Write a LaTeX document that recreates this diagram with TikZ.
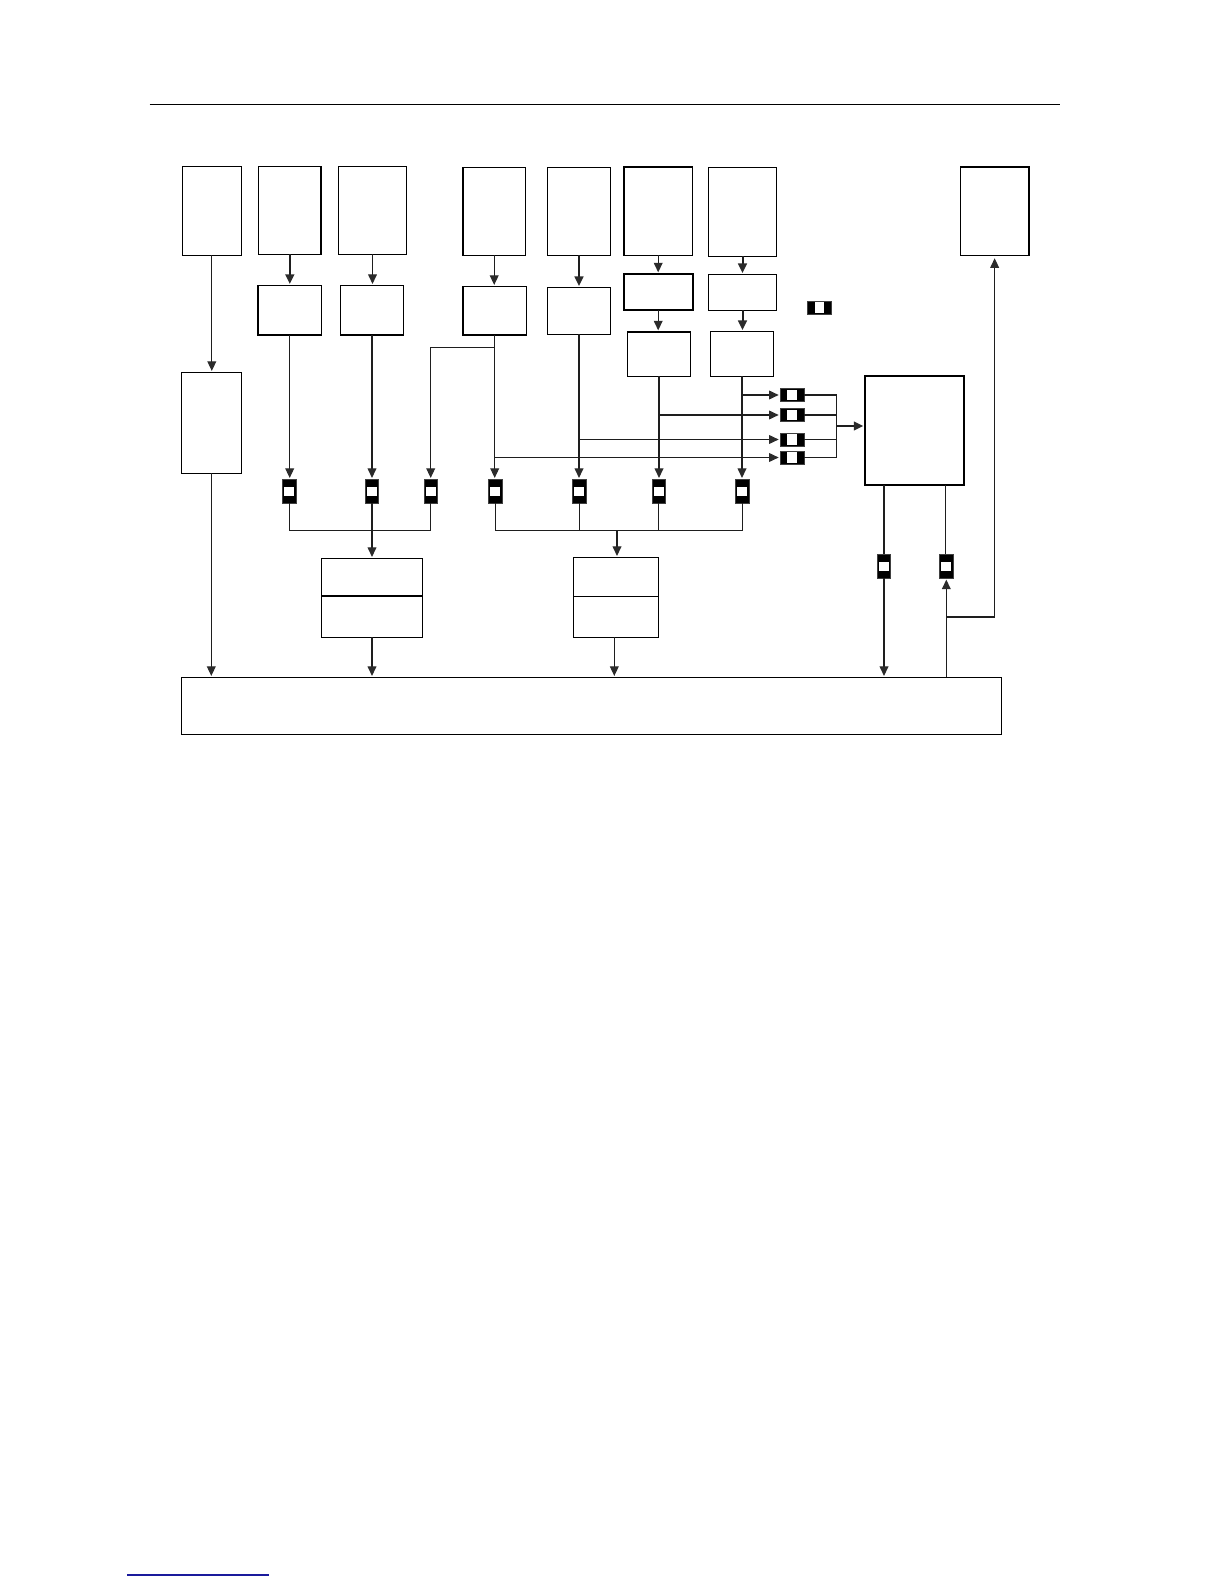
\documentclass[tikz,border=0pt]{standalone}
\usetikzlibrary{arrows.meta}
\definecolor{ink}{HTML}{1E1E1E}
\definecolor{tipink}{HTML}{2B2B2B}
\definecolor{linkblue}{HTML}{1A1A9C}
\tikzset{
  block/.style={draw=black,line width=0.85pt,fill=white,inner sep=0pt,outer sep=0pt},
  heavyblock/.style={block,line width=1.6pt},
  heavyside/.style={draw=black,line width=1.5pt,line cap=butt},
  link/.style={draw=ink,line width=0.85pt},
  heavylink/.style={link,line width=1.5pt},
  flow/.style={link,-{Triangle[length=7.2pt,width=6.6pt,color=tipink]},shorten >=1pt},
  heavyflow/.style={heavylink,-{Triangle[length=7.2pt,width=6.6pt,color=tipink]},shorten >=1pt},
  resv/.style={draw=black!75,line width=0.5pt,fill=black,inner sep=0pt,outer sep=0pt,minimum width=9.8pt,minimum height=18pt},
  resh/.style={draw=black!75,line width=0.5pt,fill=black,inner sep=0pt,outer sep=0pt,minimum width=18pt,minimum height=9.8pt},
  holev/.style={fill=white,inner sep=0pt,minimum width=7.6pt,minimum height=6.8pt},
  holeh/.style={fill=white,inner sep=0pt,minimum width=7pt,minimum height=8pt},
}
% style, name, x0, y0, x1, y1 (reference pixels)
\newcommand{\myblock}[6]{\node[#1,minimum width={(#5-#3)*0.75pt},minimum height={(#6-#4)*0.75pt}] (#2) at ({(#3+#5)/2},{(#4+#6)/2}) {};}
\newcommand{\myresv}[3]{\node[resv] (#1) at (#2,#3) {}; \node[holev] (#1w) at (#1) {};}
\newcommand{\myresh}[3]{\node[resh] (#1) at (#2,#3) {}; \node[holeh] (#1w) at (#1) {};}
\begin{document}
\begin{tikzpicture}[x=0.75pt,y=-0.75pt]
\useasboundingbox (0,0) rectangle (1224,1584);
% header and footer rules
\coordinate (headL) at (149.5,105);
\coordinate (headR) at (1060,105);
\draw[black,line width=0.75pt] (headL) -- (headR);
\coordinate (footL) at (127,1575);
\coordinate (footR) at (269,1575);
\draw[linkblue,line width=0.8pt] (footL) -- (footR);
% top row
\myblock{block}{b1}{182.3}{166.3}{241.3}{255.3}
\myblock{block}{b2}{258.3}{166.3}{321.3}{254.3}
\myblock{block}{b3}{338.3}{166.3}{406.7}{254.3}
\myblock{block}{b4}{462.7}{167.3}{525.7}{255.3}
\myblock{block}{b5}{547.3}{167.3}{610.7}{255.3}
\myblock{block}{b6}{623.7}{167.3}{692.7}{255.3}
\myblock{block}{b7}{708.3}{167.3}{776.7}{256.3}
\myblock{block}{b8}{960.3}{167.3}{1029}{255.3}
% second row
\myblock{block}{c2}{257.7}{285.3}{321.7}{335.3}
\myblock{block}{c3}{340.3}{285.3}{403.7}{335.3}
\myblock{block}{c4}{462.7}{286.3}{526.7}{335}
\myblock{block}{c5}{547.3}{287.3}{610.7}{334.3}
\myblock{heavyblock}{c6}{623.7}{273.7}{692.7}{310.3}
\myblock{block}{c7}{708.3}{274.3}{776.7}{310.3}
\myblock{block}{d6}{627.3}{331.7}{690.7}{376.3}
\myblock{block}{d7}{710.3}{331.3}{773.7}{376.3}
\myblock{block}{lft}{181.3}{372.3}{241.3}{473.3}
\myblock{heavyblock}{big}{864.7}{375.7}{964.3}{485.3}
% lower blocks
\myblock{block}{e1}{321.3}{558.3}{422.7}{637.3}
\myblock{block}{e2}{573.3}{557.3}{658.7}{637.3}
\myblock{block}{bot}{181.3}{677.3}{1001.7}{734.3}
% heavier sides
\draw[heavyside] (b2.north east) -- (b2.south east);
\draw[heavyside] (c2.north west) -- (c2.south west) -- (c2.south east);
\draw[heavyside] (c3.south west) -- (c3.south east);
\draw[heavyside] (b4.north west) -- (b4.south west);
\draw[heavyside] (c4.north west) -- (c4.south west) -- (c4.south east);
\draw[heavyside] (b6.south west) -- (b6.north west) -- (b6.north east);
\draw[heavyside] (d6.north west) -- (d6.north east);
\draw[heavyside] (b8.north west) -- (b8.north east) -- (b8.south east);
% dividers
\coordinate (e1m) at (0,596);
\coordinate (e2m) at (0,596.7);
\draw[heavyside] (e1.west |- e1m) -- (e1.east |- e1m);
\draw[black,line width=0.8pt] (e2.west |- e2m) -- (e2.east |- e2m);
% small components
\myresv{r1}{289.3}{491.3}
\myresv{r2}{372}{491.3}
\myresv{r3}{430.7}{491.3}
\myresv{r4}{495.3}{491.3}
\myresv{r5}{579.3}{491.3}
\myresv{r6}{658.7}{491.3}
\myresv{r7}{742.3}{491.3}
\myresv{r8}{884}{566.3}
\myresv{r9}{946.3}{566.3}
\myresh{h1}{792}{395}
\myresh{h2}{792}{415}
\myresh{h3}{792}{439.5}
\myresh{h4}{792}{457.5}
\myresh{key}{819.7}{307.5}
% levels
\coordinate (yA) at (0,347.7);
\coordinate (yB) at (0,530.3);
\coordinate (yC) at (0,617);
\coordinate (bus) at (836.7,426);
\coordinate (e2in) at (617,530.3);
\coordinate (e2pt) at (614.3,637.3);
\coordinate (bigR) at (945.3,485.3);
\coordinate (bigRr) at (945.3,554.3);
\coordinate (tap) at (946.3,677.3);
% first-stage arrows
\draw[flow] (b1.south) -- (b1.south |- lft.north);
\draw[heavyflow] (b2.south) -- (b2.south |- c2.north);
\draw[flow] (b3.south) -- (b3.south |- c3.north);
\draw[flow] (b4.south) -- (b4.south |- c4.north);
\draw[heavyflow] (b5.south) -- (b5.south |- c5.north);
\draw[flow] (b6.south) -- (b6.south |- c6.north);
\draw[heavyflow] (b7.south) -- (b7.south |- c7.north);
\draw[flow] (c6.south) -- (c6.south |- d6.north);
\draw[heavyflow] (c7.south) -- (c7.south |- d7.north);
% down to components
\draw[flow] (c2.south) -- (c2.south |- r1.north);
\draw[flow] (c3.south) -- (c3.south |- r2.north);
\draw[flow] (c4.south) -- (c4.south |- r4.north);
\draw[flow] (c5.south) -- (c5.south |- r5.north);
\draw[flow] (d6.south) -- (d6.south |- r6.north);
\draw[flow] (d7.south) -- (d7.south |- r7.north);
\draw[flow] (c4.south |- yA) -| (r3.north);
% side branches to the horizontal components
\draw[flow] (d7.south |- h1.west) -- (h1.west);
\draw[flow] (d6.south |- h2.west) -- (h2.west);
\draw[flow] (c5.south |- h3.west) -- (h3.west);
\draw[flow] (c4.south |- h4.west) -- (h4.west);
\draw[link] (h1.east) -- (h1.east -| bus);
\draw[link] (h2.east) -- (h2.east -| bus);
\draw[link] (h3.east) -- (h3.east -| bus);
\draw[link] (h4.east) -- (h4.east -| bus);
\draw[link] (h1.east -| bus) -- (h4.east -| bus);
\draw[heavyflow] (bus) -- (bus -| big.west);
% collecting buses
\draw[link] (r1.south) -- (r1.south |- yB) -- (r3.south |- yB) -- (r3.south);
\draw[flow] (r2.south) -- (r2.south |- e1.north);
\draw[link] (r4.south) -- (r4.south |- yB) -- (r7.south |- yB) -- (r7.south);
\draw[link] (r5.south) -- (r5.south |- yB);
\draw[link] (r6.south) -- (r6.south |- yB);
\draw[flow] (e2in) -- (e2in |- e2.north);
% into the bottom block
\draw[flow] (lft.south) -- (lft.south |- bot.north);
\draw[flow] (e1.south) -- (e1.south |- bot.north);
\draw[flow] (e2pt) -- (e2pt |- bot.north);
% right-hand block
\draw[link] (r8.north |- big.south) -- (r8.north);
\draw[flow] (r8.south) -- (r8.south |- bot.north);
\draw[link] (bigR) -- (bigRr);
\draw[flow] (tap) -- (tap |- r9.south);
\draw[flow,shorten >=2.2pt] (tap |- yC) -| (b8.south);
\end{tikzpicture}
\end{document}
